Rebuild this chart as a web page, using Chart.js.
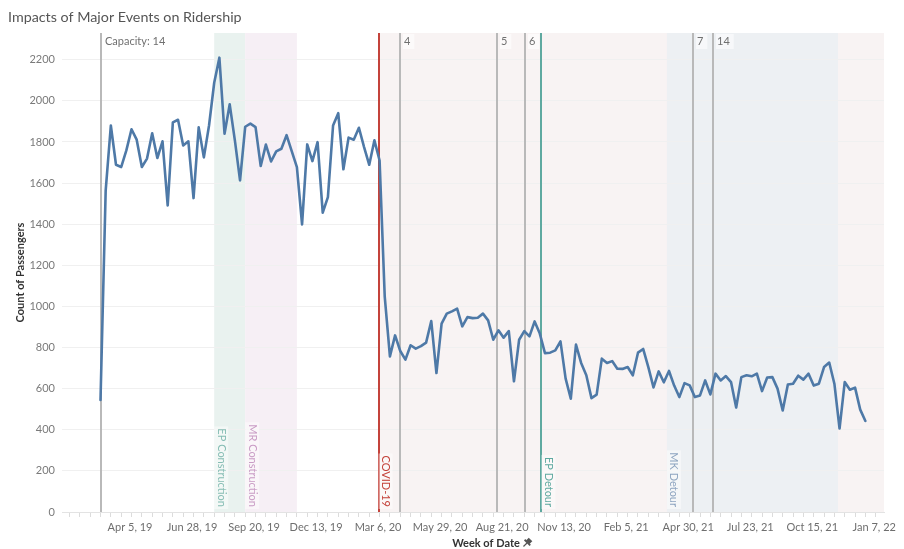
<!DOCTYPE html>
<html><head><meta charset="utf-8">
<script src="https://cdn.jsdelivr.net/npm/chart.js@4.4.1/dist/chart.umd.min.js"></script>
<style>html,body{margin:0;padding:0;background:#fff;}#wrap{width:904px;height:549px;position:relative;}</style>
</head><body><div id="wrap"><canvas id="c" width="904" height="549"></canvas></div>
<script>
// ---- DATA ----
// weekly passenger counts, one per week starting the week of Feb 24, 2019 (week index 0)
const passengers = [
 545,1563,1880,1689,1678,1759,1862,1811,1678,1719,
 1842,1722,1803,1491,1895,1908,1783,1803,1527,1871,
 1725,1880,2088,2210,1840,1983,1808,1613,1874,1889,
 1872,1683,1787,1705,1754,1767,1833,1755,1678,1399,
 1788,1707,1799,1456,1532,1880,1940,1667,1821,1811,
 1869,1775,1689,1808,1710,1046,757,859,783,741,
 811,795,807,824,929,676,916,965,976,989,
 903,948,943,945,965,932,838,884,848,880,
 636,838,880,854,927,868,773,775,786,830,
 649,551,814,725,665,554,571,746,725,734,
 697,696,705,665,775,793,705,606,684,631,
 686,615,559,627,616,559,567,640,572,673,
 640,661,632,508,656,665,660,673,588,654,
 656,600,494,620,624,663,644,673,615,624,
 705,727,624,406,632,595,605,498,443
];
// x tick labels and their positions (in weeks from Feb 24, 2019)
const xTickLabels = ["Apr 5, 19","Jun 28, 19","Sep 20, 19","Dec 13, 19","Mar 6, 20","May 29, 20","Aug 21, 20","Nov 13, 20","Feb 5, 21","Apr 30, 21","Jul 23, 21","Oct 15, 21","Jan 7, 22"];
const xTickWeeks = [5.714,17.714,29.714,41.714,53.714,65.714,77.714,89.714,101.714,113.714,125.714,137.714,149.714];
const xMinorWeeks = [-6,-4,-2,0,2,4,6,8,10,12,14,16,18,20,22,24,26,28,30,32,34,36,38,40,42,44,46,48,50,52,54,56,58,60,62,64,66,68,70,72,74,76,78,80,82,84,86,88,90,92,94,96,98,100,102,104,106,108,110,112,114,116,118,120,122,124,126,128,130,132,134,136,138,140,142,144,146,148,150];
const yTicks = [0,200,400,600,800,1000,1200,1400,1600,1800,2000,2200];
// reference lines (week position)
const refLineLabels = ["Capacity: 14","4","5","6","7","14"];
const refLineWeeks = [0,58,76.7,82.2,114.6,118.5];
// marked events (week position)
const eventLabels = ["COVID-19","EP Detour"];
const eventWeeks = [53.8,85.3];
// shaded periods (week start / end; null = to the end of the axis)
const bandLabels = ["COVID-19","MK Detour","EP Construction","MR Construction"];
const bandStarts = [53.8,109.6,22,28];
const bandEnds = [null,142.7,28,38];

// ---- STYLES ----
const FONT = "Lato, 'Open Sans', sans-serif";
const bandFill = {"COVID-19":"#f8f3f3","MK Detour":"#edf0f3","EP Construction":"#e9f2ef","MR Construction":"#f6eff5"};
const bandText = {"MK Detour":"#8ea5c0","EP Construction":"#86bdb4","MR Construction":"#c99cc5"};
const eventColor = {"COVID-19":"#c4433b","EP Detour":"#5fa9a0"};

const overlay = {
  id:'overlay',
  beforeDraw(chart){
    const {ctx, chartArea:a, scales:{x}} = chart;
    ctx.save();
    bandLabels.forEach((lab,i)=>{
      const x1 = Math.max(a.left, x.getPixelForValue(bandStarts[i]));
      const x2 = bandEnds[i]===null ? a.right : Math.min(a.right, x.getPixelForValue(bandEnds[i]));
      ctx.fillStyle = bandFill[lab];
      ctx.fillRect(x1, a.top, x2-x1, a.bottom-a.top);
    });
    ctx.restore();
  },
  beforeDatasetsDraw(chart){
    const {ctx, chartArea:a, scales:{x}} = chart;
    ctx.save();
    ctx.lineWidth = 2;
    refLineWeeks.forEach(w=>{
      const px = Math.round(x.getPixelForValue(w));
      ctx.strokeStyle = '#b9b9b9';
      ctx.beginPath(); ctx.moveTo(px, a.top); ctx.lineTo(px, a.bottom); ctx.stroke();
    });
    eventLabels.forEach((lab,i)=>{
      const px = Math.round(x.getPixelForValue(eventWeeks[i]));
      ctx.strokeStyle = eventColor[lab];
      ctx.beginPath(); ctx.moveTo(px, a.top); ctx.lineTo(px, a.bottom); ctx.stroke();
    });
    ctx.restore();
  },
  afterDatasetsDraw(chart){
    const {ctx, chartArea:a, scales:{x}} = chart;
    ctx.save();
    ctx.font = "11px " + FONT;
    ctx.textBaseline = 'middle';
    refLineLabels.forEach((lab,i)=>{
      const px = Math.round(x.getPixelForValue(refLineWeeks[i])) + 3;
      const w = ctx.measureText(lab).width;
      ctx.fillStyle = 'rgba(255,255,255,0.55)';
      ctx.fillRect(px, a.top+1, w+5, 15);
      ctx.fillStyle = '#707070';
      ctx.textAlign = 'left';
      ctx.fillText(lab, px+1, a.top+8.5);
    });
    const rot = (text, xc, color) => {
      ctx.save();
      ctx.translate(xc, a.bottom-5);
      ctx.rotate(Math.PI/2);
      const w = ctx.measureText(text).width;
      ctx.fillStyle = 'rgba(255,255,255,0.45)';
      ctx.fillRect(-w-2, -7, w+4, 14);
      ctx.fillStyle = color;
      ctx.textAlign = 'right';
      ctx.textBaseline = 'middle';
      ctx.fillText(text, 0, 0);
      ctx.restore();
    };
    bandLabels.forEach((lab,i)=>{
      if(!bandText[lab]) return;
      rot(lab, x.getPixelForValue(bandStarts[i]) + 7, bandText[lab]);
    });
    eventLabels.forEach((lab,i)=>{
      rot(lab, x.getPixelForValue(eventWeeks[i]) + 7, eventColor[lab]);
    });
    ctx.restore();
  },
  afterDraw(chart){
    const {ctx, chartArea:a} = chart;
    ctx.save();
    ctx.fillStyle = '#555555';
    ctx.font = "14.3px " + FONT;
    ctx.textBaseline = 'middle';
    ctx.textAlign = 'left';
    ctx.fillText("Impacts of Major Events on Ridership", 8, 17);
    ctx.fillStyle = '#333333';
    ctx.font = "bold 11px " + FONT;
    ctx.textAlign = 'center';
    ctx.fillText("Week of Date", 486, 543);
    ctx.save();
    ctx.translate(20, (a.top+a.bottom)/2);
    ctx.rotate(-Math.PI/2);
    ctx.fillText("Count of Passengers", 0, 0);
    ctx.restore();
    ctx.save();
    ctx.translate(527, 543);
    ctx.rotate(Math.PI/4);
    ctx.fillStyle = '#555';
    ctx.strokeStyle = '#555';
    ctx.lineWidth = 1.2;
    ctx.fillRect(-2.5, -5, 5, 4);
    ctx.fillRect(-4, -1.5, 8, 1.8);
    ctx.beginPath(); ctx.moveTo(0, 0); ctx.lineTo(0, 5); ctx.stroke();
    ctx.restore();
    ctx.restore();
  }
};

new Chart(document.getElementById('c').getContext('2d'), {
  type:'line',
  data:{datasets:[{
    data: passengers.map((v,i)=>({x:i, y:v})),
    borderColor:'#4e79a7', borderWidth:2.6, pointRadius:0, tension:0, fill:false,
    borderJoinStyle:'round', borderCapStyle:'round'
  }]},
  options:{
    responsive:false, animation:false, devicePixelRatio:1,
    layout:{padding:{top:33, right:20, left:0, bottom:0}},
    plugins:{legend:{display:false}, tooltip:{enabled:false}, title:{display:false}},
    scales:{
      x:{
        type:'linear', min:-7.45, max:151.6,
        afterBuildTicks:(s)=>{
          s.ticks = xMinorWeeks.map(v=>({value:v, lab:''})).concat(xTickWeeks.map((v,i)=>({value:v, lab:xTickLabels[i]})));
        },
        ticks:{autoSkip:false, maxRotation:0, minRotation:0, color:'#6e6e6e', font:{family:FONT, size:11}, padding:4,
          callback:(v,i,t)=> t[i].lab},
        grid:{drawOnChartArea:false, drawTicks:true, tickLength:5,
          tickColor:(c)=> (c.tick && c.tick.lab) ? 'rgba(0,0,0,0)' : '#dcdcdc'},
        border:{display:true, color:'#e3e3e3'},
        afterFit:(s)=>{ s.height = 37; }
      },
      y:{
        min:0, max:2330,
        afterBuildTicks:(s)=>{ s.ticks = yTicks.map(v=>({value:v})); },
        ticks:{color:'#7a7a7a', font:{family:FONT, size:11}, padding:7, callback:(v)=>String(v)},
        grid:{color:'#f0f0f0', drawTicks:false},
        border:{display:false},
        afterFit:(s)=>{ s.width = 62; }
      }
    }
  },
  plugins:[overlay]
});
</script>
</body></html>
